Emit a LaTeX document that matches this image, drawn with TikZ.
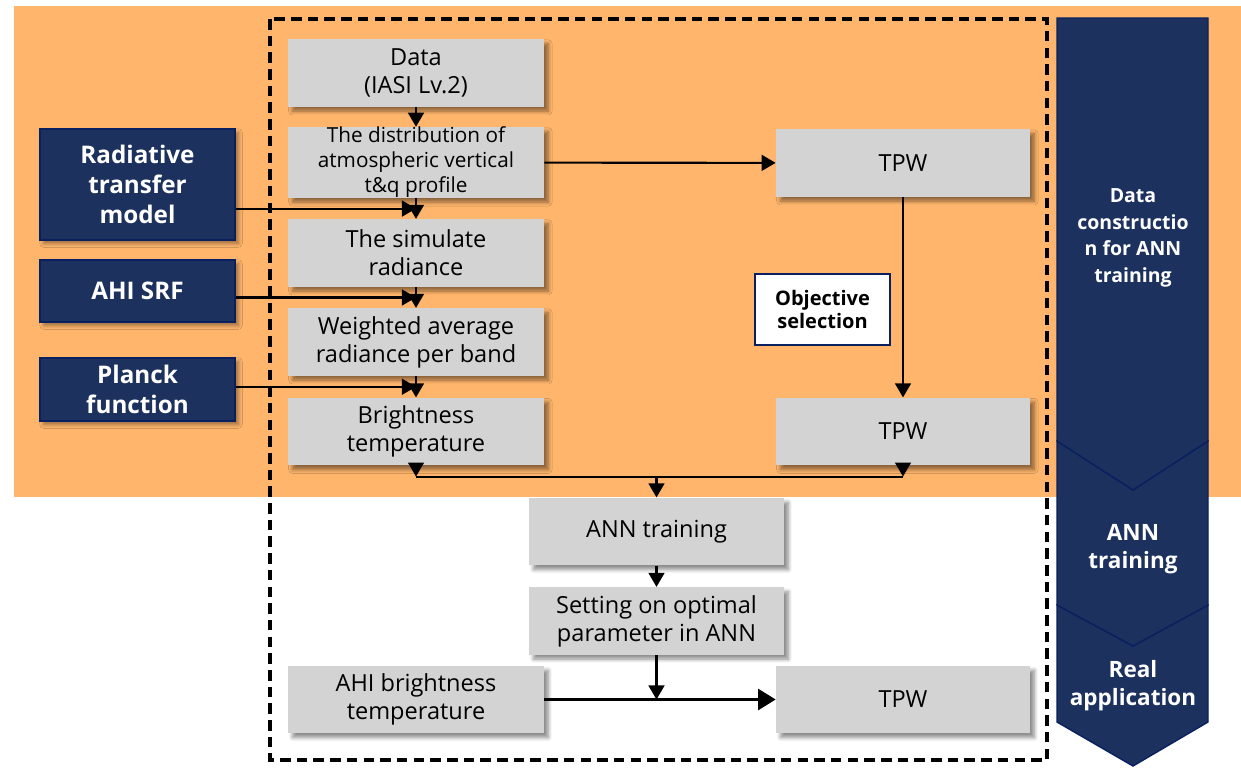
\documentclass[tikz,border=0pt]{standalone}
\usepackage{fontspec}
\setmainfont{Open Sans}
\usetikzlibrary{arrows.meta,shadows.blur,calc}

\definecolor{bgorange}{RGB}{255,182,108}
\definecolor{boxgray}{RGB}{211,211,211}
\definecolor{navy}{RGB}{28,49,94}
\definecolor{navyline}{RGB}{8,32,96}

\tikzset{
  graybox/.style={fill=boxgray, minimum width=5.12cm, minimum height=1.35cm,
    inner sep=0pt, align=center, font=\fontsize{13.4}{16}\selectfont,
    blur shadow={shadow xshift=2.5pt, shadow yshift=-2.5pt, shadow blur steps=6, shadow opacity=45}},
  navybox/.style={fill=navy, draw=navyline, line width=1.2pt, text=white,
    minimum width=3.9cm, inner sep=0pt, align=center,
    font=\fontsize{13.8}{17}\selectfont\bfseries,
    blur shadow={shadow xshift=2pt, shadow yshift=-2pt, shadow blur steps=5, shadow opacity=40}},
  selbox/.style={fill=white, draw=navyline, line width=1.2pt,
    minimum width=2.7cm, minimum height=1.42cm, align=center,
    font=\fontsize{11.4}{13.6}\selectfont\bfseries},
  chev/.style={fill=navy, draw=navyline, line width=0.8pt},
  stagetext/.style={text=white, align=center},
  arr/.style={-{Triangle[width=9pt,length=8pt]}, line width=1.2pt},
  bigarr/.style={-{Triangle[width=12pt,length=10pt]}, line width=1.4pt}
}

\begin{document}
\begin{tikzpicture}[x=0.02cm, y=-0.02cm]
  \useasboundingbox (0,0) rectangle (1241,768);

  % orange band behind the data construction part
  \fill[bgorange] (14,6) rectangle (1241,497);

  % dashed frame
  \draw[line width=1.8pt, dash pattern=on 6pt off 3.5pt] (270,19) rectangle (1047,760);

  % stage chevrons, bottom one first
  \draw[chev] (1057,605) -- (1133,646) -- (1208,605) -- (1208,722) -- (1133,766) -- (1057,722) -- cycle;
  \draw[chev] (1057,441) -- (1133,490) -- (1208,441) -- (1208,605) -- (1133,646) -- (1057,605) -- cycle;
  \draw[chev] (1057,18) -- (1208,18) -- (1208,441) -- (1133,490) -- (1057,441) -- cycle;
  \node[stagetext, font=\fontsize{11.1}{15.1}\selectfont\bfseries] (st1) at (1133,238) {Data\\constructio\\n for ANN\\training};
  \node[stagetext, font=\fontsize{12.8}{16}\selectfont\bfseries] (st2) at (1133,549) {ANN\\training};
  \node[stagetext, font=\fontsize{12.8}{16}\selectfont\bfseries] (st3) at (1133,686) {Real\\application};

  % inputs
  \node[navybox, minimum height=2.22cm] (rtm) at (137.5,184.5) {Radiative\\transfer\\model};
  \node[navybox, minimum height=1.24cm] (srf) at (137.5,291) {AHI SRF};
  \node[navybox, minimum height=1.26cm] (planck) at (137.5,389.5) {Planck\\function};

  % left column
  \node[graybox] (data) at (416,73) {Data\\(IASI Lv.2)};
  \node[graybox, font=\fontsize{11.8}{14.2}\selectfont] (dist) at (416,162.5) {The distribution of\\atmospheric vertical\\t\&q profile};
  \node[graybox] (sim) at (416,253) {The simulate\\radiance};
  \node[graybox] (wavg) at (416,342) {Weighted average\\radiance per band};
  \node[graybox] (bt) at (416,431.5) {Brightness\\temperature};

  % right column
  \node[graybox, minimum width=5.08cm] (tpwa) at (903,163) {TPW};
  \node[graybox, minimum width=5.08cm] (tpwb) at (903,431.5) {TPW};
  \node[selbox] (sel) at (822.5,309.5) {Objective\\selection};

  % training and application
  \node[graybox, minimum width=5.1cm] (ann) at (656.5,531.5) {ANN training};
  \node[graybox, minimum width=5.1cm] (opt) at (656.5,621) {Setting on optimal\\parameter in ANN};
  \node[graybox] (ahi) at (416,699.5) {AHI brightness\\temperature};
  \node[graybox, minimum width=5.08cm] (tpwc) at (903,699.5) {TPW};

  % junctions
  \coordinate (j1) at ($(dist.south)!0.5!(sim.north)$);
  \coordinate (j2) at ($(sim.south)!0.5!(wavg.north)$);
  \coordinate (j3) at ($(wavg.south)!0.5!(bt.north)$);
  \coordinate (j4) at ($(bt.south)+(0,11)$);
  \coordinate (j5) at (opt.south |- ahi);

  % connectors
  \draw[arr] (data) -- (dist);
  \draw[arr] (dist) -- (sim);
  \draw[arr] (sim) -- (wavg);
  \draw[arr] (wavg) -- (bt);
  \draw[arr] (rtm.east |- j1) -- (j1);
  \draw[arr] (srf.east |- j2) -- (j2);
  \draw[arr] (planck.east |- j3) -- (j3);
  \draw[arr] (dist) -- (tpwa);
  \draw[arr] (tpwa) -- (tpwb);
  \draw[arr] (bt) -- (j4);
  \draw[arr] (tpwb) -- (tpwb.south |- j4);
  \draw[line width=1.2pt] (j4) -- (tpwb.south |- j4);
  \draw[arr] (ann.north |- j4) -- (ann);
  \draw[arr] (ann) -- (opt);
  \draw[arr] (opt) -- (j5);
  \draw[bigarr] (ahi) -- (tpwc);
\end{tikzpicture}
\end{document}
